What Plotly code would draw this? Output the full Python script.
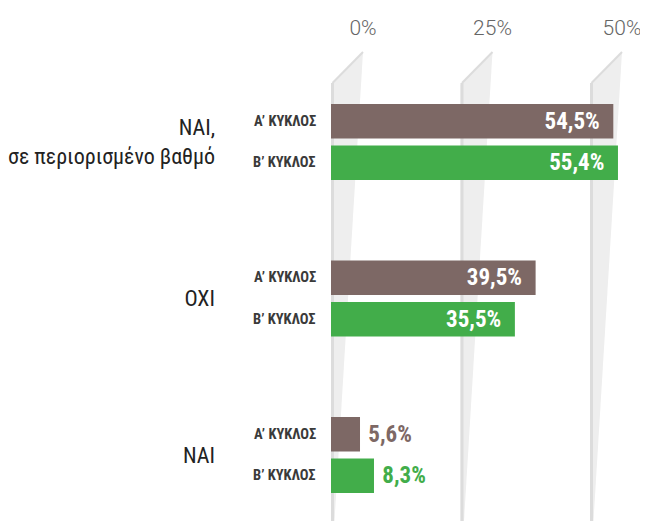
import plotly.graph_objects as go

# ── Data ───────────────────────────────────────────────────────────────────────
categories = ["ΝΑΙ,<br>σε περιορισμένο βαθμό", "ΟΧΙ", "ΝΑΙ"]
rounds = ["Α’ ΚΥΚΛΟΣ", "Β’ ΚΥΚΛΟΣ"]
round_a = [54.5, 39.5, 5.6]
round_b = [55.4, 35.5, 8.3]
tick_values = [0, 25, 50]
tick_labels = [f"{v}%" for v in tick_values]

# ── Style ──────────────────────────────────────────────────────────────────────
# The page body has an 8px default margin; the figure is sized to fit inside it
# (no scrollbars) and all pixel constants below are in window coordinates.
PAGE_MARGIN = 8
WIN_W, WIN_H = 648, 529
W, H = WIN_W - 2 * PAGE_MARGIN, WIN_H - 2 * PAGE_MARGIN
RIGHT = PAGE_MARGIN + W       # right edge of figure (window px)
BOTTOM = PAGE_MARGIN + H      # bottom edge of figure (window px)
TOP = 83                      # top of plot area (window px)
ZERO_PX = 331                 # window x pixel of the 0% line
PX_PER_UNIT = 5.18
COLORS = ["#7d6865", "#42ad4a"]
FONT = "Roboto Condensed, Liberation Sans Narrow, Roboto, sans-serif"
GRID_DARK = "#dcdcdc"
GRID_LIGHT = "#eeeeee"
BARGAP = 0.47

plot_w = RIGHT - ZERO_PX
plot_h = BOTTOM - TOP
x_range = [0, plot_w / PX_PER_UNIT]


def px(n):
    """Horizontal pixels -> data units."""
    return n / PX_PER_UNIT


def py(y_pixel):
    """Window y pixel -> paper fraction of the plot area."""
    return (BOTTOM - y_pixel) / plot_h


fig = go.Figure()
for name, vals, color in zip(rounds, [round_a, round_b], COLORS):
    inside = [v > 15 for v in vals]
    fig.add_trace(go.Bar(
        y=categories,
        x=vals,
        name=name,
        orientation="h",
        marker=dict(color=color, line=dict(width=0)),
        texttemplate=["%{x:.1f}%\u00a0\u00a0" if i else "\u00a0%{x:.1f}%" for i in inside],
        textposition=["inside" if i else "outside" for i in inside],
        insidetextanchor="end",
        constraintext="none",
        insidetextfont=dict(family=FONT, size=23, color="white", weight="bold"),
        outsidetextfont=dict(family=FONT, size=23, color=color, weight="bold"),
        cliponaxis=False,
        hoverinfo="skip",
    ))

# ── 3D-looking grid panels ─────────────────────────────────────────────────────
shapes = []
for v in tick_values:
    shapes.append(dict(
        type="path", xref="x", yref="paper", layer="below",
        path=(f"M {v},{py(85)} L {v + px(32)},{py(52)} "
              f"L {v + px(3)},{py(WIN_H)} L {v},{py(WIN_H)} Z"),
        fillcolor=GRID_LIGHT, line=dict(width=0),
    ))
    shapes.append(dict(
        type="rect", xref="x", yref="paper", layer="below",
        x0=v, x1=v + px(3), y0=0, y1=py(TOP),
        fillcolor=GRID_DARK, line=dict(width=0),
    ))
    shapes.append(dict(
        type="line", xref="x", yref="paper", layer="below",
        x0=v + px(1.5), y0=py(TOP), x1=v + px(32), y1=py(52),
        line=dict(color=GRID_DARK, width=2),
    ))

# ── Round sub-labels ───────────────────────────────────────────────────────────
offset = (1 - BARGAP) / 4
annotations = []
for i, _ in enumerate(categories):
    for j, r in enumerate(rounds):
        annotations.append(dict(
            xref="paper", yref="y", x=(318 - ZERO_PX) / plot_w,
            y=i + (2 * j - 1) * offset,
            text=r, showarrow=False, xanchor="right", yanchor="middle",
            font=dict(family=FONT, size=14.5, color="#3a3a3a", weight="bold"),
        ))

y_top = 142   # window px centre of first group
y_step = 156.5
fig.update_layout(
    width=W, height=H,
    margin=dict(l=ZERO_PX - PAGE_MARGIN, r=0, t=TOP - PAGE_MARGIN, b=0, pad=0),
    paper_bgcolor="white", plot_bgcolor="rgba(0,0,0,0)",
    barmode="group", bargap=BARGAP, bargroupgap=0.17,
    separators=",.",
    showlegend=False,
    shapes=shapes, annotations=annotations,
    xaxis=dict(
        range=x_range, side="top", tickmode="array",
        tickvals=tick_values, ticktext=tick_labels, automargin=False,
        showgrid=False, zeroline=False, showline=False, ticks="",
        ticklabelshift=32, ticklabelstandoff=43, ticklabeloverflow="allow",
        tickfont=dict(family="Roboto", size=21, color="#666666", weight=300),
    ),
    yaxis=dict(
        type="category", categoryorder="array", categoryarray=categories,
        range=[(BOTTOM - y_top) / y_step, (TOP - y_top) / y_step], automargin=False,
        showgrid=False, zeroline=False, showline=False, ticks="",
        ticklabelstandoff=115,
        tickfont=dict(family=FONT, size=22, color="#222222"),
    ),
)

fig.write_html("out.html")
